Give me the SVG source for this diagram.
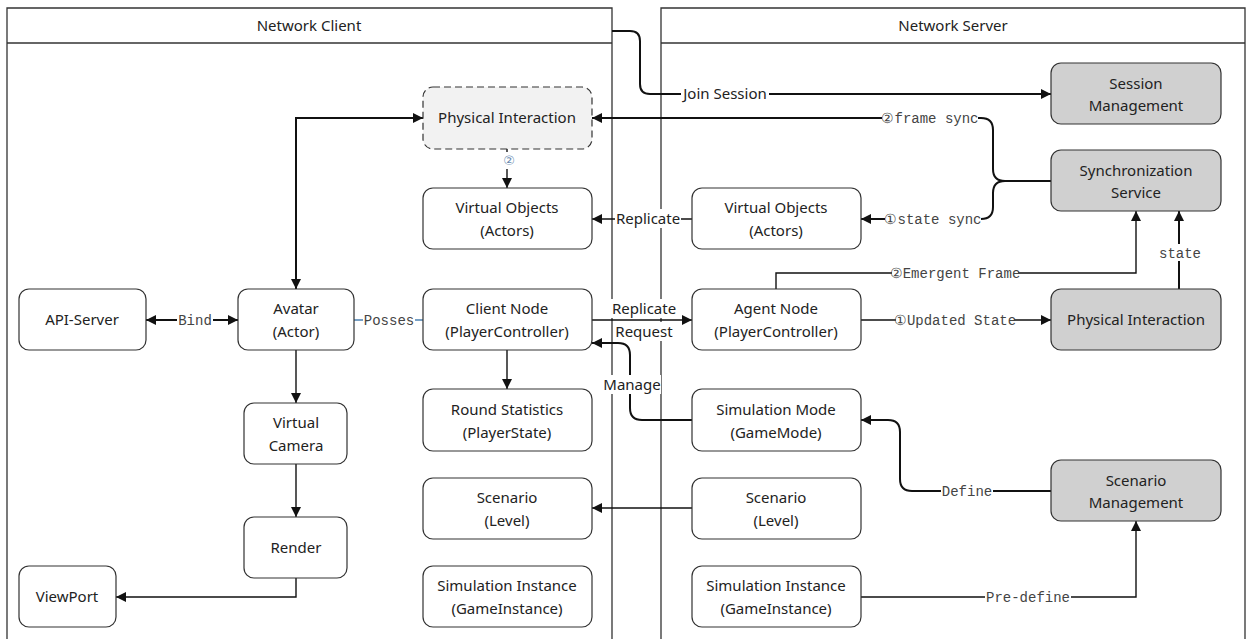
<svg xmlns="http://www.w3.org/2000/svg" width="1252" height="639" viewBox="0 0 1252 639">
<defs>
<marker id="ah" viewBox="0 0 10 10" refX="10" refY="5" markerWidth="10" markerHeight="10" markerUnits="userSpaceOnUse" orient="auto-start-reverse"><path d="M0,0 L10,5 L0,10 z" fill="#111"/></marker>
<style>
.cont{fill:#fff;stroke:#333;stroke-width:1.3}
.hdr{font-family:"Noto Sans","Open Sans",sans-serif;font-size:15px;fill:#222;text-anchor:middle}
.n rect{fill:#fff;stroke:#333;stroke-width:1.2}
.g rect{fill:#d0d0d0;stroke:#333;stroke-width:1.2}
.d rect{fill:#f2f2f2;stroke:#333;stroke-width:1.2;stroke-dasharray:7 4}
.n text,.g text,.d text{font-family:"Noto Sans","Open Sans",sans-serif;font-size:15px;fill:#222;text-anchor:middle}
.c{fill:none;stroke:#111;stroke-width:1.4}
.t{stroke-width:2}
.bg{fill:#fff;stroke:none}
.lb{font-family:"Liberation Mono","DejaVu Sans Mono",monospace;font-size:14px;fill:#444;text-anchor:middle}
.ls{font-family:"Noto Sans","Open Sans",sans-serif;font-size:15px;fill:#222;text-anchor:middle}
</style>
</defs>
<rect width="1252" height="639" fill="#fff"/>
<g id="client-container">
<path class="cont" d="M7,650 V8 H612 V650"/>
<line x1="7" y1="43" x2="612" y2="43" stroke="#333" stroke-width="1.3"/>
<text class="hdr" x="309" y="31">Network Client</text>
</g>
<g id="server-container">
<path class="cont" d="M661,650 V8 H1245 V650"/>
<line x1="661" y1="43" x2="1245" y2="43" stroke="#333" stroke-width="1.3"/>
<text class="hdr" x="953" y="31">Network Server</text>
</g>

<g id="connectors">
<path class="c t" d="M612,31 H630 Q640,31 640,41 V84 Q640,94 650,94 H1051" marker-end="url(#ah)"/>
<path class="c t" d="M1051,181 H1005 Q993,181 993,169 V130 Q993,118 981,118 H592" marker-end="url(#ah)"/>
<path class="c t" d="M1005,181 Q993,181 993,193 V207 Q993,219 981,219 H861" marker-end="url(#ah)"/>
<path class="c" d="M692,219 H592" marker-end="url(#ah)"/>
<path class="c" d="M592,320 H692" marker-end="url(#ah)"/>
<path class="c t" d="M692,420 H642 Q630,420 630,408 V355 Q630,343 618,343 H592" marker-end="url(#ah)"/>
<path class="c" d="M776,289 V273 H1136 V211" marker-end="url(#ah)"/>
<path class="c t" d="M1179,289 V211" marker-end="url(#ah)"/>
<path class="c" d="M861,320 H1051" marker-end="url(#ah)"/>
<path class="c t" d="M1051,491 H912 Q900,491 900,479 V432 Q900,420 888,420 H861" marker-end="url(#ah)"/>
<path class="c" d="M861,597 H1136 V521" marker-end="url(#ah)"/>
<path class="c" d="M692,508 H592" marker-end="url(#ah)"/>
<path class="c" d="M507,149 V188" marker-end="url(#ah)"/>
<path class="c t" d="M423,118 H296 V289" marker-start="url(#ah)" marker-end="url(#ah)"/>
<path class="c t" d="M146,320 H238" marker-start="url(#ah)" marker-end="url(#ah)"/>
<path d="M354,320 H423" fill="none" stroke="#4a7fb0" stroke-width="1.3"/>
<path class="c" d="M507,350 V389" marker-end="url(#ah)"/>
<path class="c" d="M296,350 V403" marker-end="url(#ah)"/>
<path class="c" d="M296,464 V517" marker-end="url(#ah)"/>
<path class="c" d="M296,578 V597 H116" marker-end="url(#ah)"/>

<rect class="bg" x="681" y="84" width="88" height="18"/>
<text class="ls" x="725" y="99">Join Session</text>
<rect class="bg" x="882" y="109" width="96" height="17"/>
<text class="lb" x="930" y="123">②frame sync</text>
<rect class="bg" x="885" y="210" width="96" height="17"/>
<text class="lb" x="933" y="224">①state sync</text>
<rect class="bg" x="615" y="209" width="66" height="19"/>
<text class="ls" x="648" y="224">Replicate</text>
<rect class="bg" x="611" y="299" width="66" height="19"/>
<text class="ls" x="644" y="314">Replicate</text>
<rect class="bg" x="616" y="322" width="56" height="19"/>
<text class="ls" x="644" y="337">Request</text>
<rect class="bg" x="603" y="375" width="58" height="19"/>
<text class="ls" x="632" y="390">Manage</text>
<rect class="bg" x="892" y="264" width="126" height="17"/>
<text class="lb" x="955" y="278">②Emergent Frame</text>
<rect class="bg" x="1159" y="244" width="42" height="17"/>
<text class="lb" x="1180" y="258">state</text>
<rect class="bg" x="896" y="311" width="118" height="17"/>
<text class="lb" x="955" y="325">①Updated State</text>
<rect class="bg" x="941" y="482" width="52" height="17"/>
<text class="lb" x="967" y="496">Define</text>
<rect class="bg" x="985" y="588" width="86" height="17"/>
<text class="lb" x="1028" y="602">Pre-define</text>
<rect class="bg" x="177" y="311" width="36" height="17"/>
<text class="lb" x="195" y="325">Bind</text>
<rect class="bg" x="363" y="311" width="52" height="17"/>
<text class="lb" x="389" y="325">Posses</text>
<rect class="bg" x="500" y="152" width="18" height="17"/>
<text x="509" y="165" font-family="DejaVu Sans,sans-serif" font-size="13" fill="#6a8bb0" text-anchor="middle">②</text>
</g>

<g id="client-physical-interaction" class="d"><rect x="423" y="87" width="169" height="62" rx="10"/><text x="507" y="123">Physical Interaction</text></g>
<g id="client-virtual-objects" class="n"><rect x="423" y="188" width="169" height="61" rx="10"/><text x="507" y="213">Virtual Objects</text><text x="507" y="236">(Actors)</text></g>
<g id="client-node" class="n"><rect x="423" y="289" width="169" height="61" rx="10"/><text x="507" y="314">Client Node</text><text x="507" y="337">(PlayerController)</text></g>
<g id="round-statistics" class="n"><rect x="423" y="389" width="169" height="62" rx="10"/><text x="507" y="415">Round Statistics</text><text x="507" y="438">(PlayerState)</text></g>
<g id="client-scenario" class="n"><rect x="423" y="478" width="169" height="61" rx="10"/><text x="507" y="503">Scenario</text><text x="507" y="526">(Level)</text></g>
<g id="client-sim-instance" class="n"><rect x="423" y="566" width="169" height="61" rx="10"/><text x="507" y="591">Simulation Instance</text><text x="507" y="614">(GameInstance)</text></g>
<g id="api-server" class="n"><rect x="19" y="289" width="127" height="61" rx="10"/><text x="82" y="325">API-Server</text></g>
<g id="avatar" class="n"><rect x="238" y="289" width="116" height="61" rx="10"/><text x="296" y="314">Avatar</text><text x="296" y="337">(Actor)</text></g>
<g id="virtual-camera" class="n"><rect x="244" y="403" width="103" height="61" rx="10"/><text x="296" y="428">Virtual</text><text x="296" y="451">Camera</text></g>
<g id="render" class="n"><rect x="244" y="517" width="103" height="61" rx="10"/><text x="296" y="553">Render</text></g>
<g id="viewport" class="n"><rect x="19" y="566" width="97" height="61" rx="10"/><text x="67" y="602">ViewPort</text></g>

<g id="server-virtual-objects" class="n"><rect x="692" y="188" width="169" height="61" rx="10"/><text x="776" y="213">Virtual Objects</text><text x="776" y="236">(Actors)</text></g>
<g id="agent-node" class="n"><rect x="692" y="289" width="169" height="61" rx="10"/><text x="776" y="314">Agent Node</text><text x="776" y="337">(PlayerController)</text></g>
<g id="simulation-mode" class="n"><rect x="692" y="389" width="169" height="62" rx="10"/><text x="776" y="415">Simulation Mode</text><text x="776" y="438">(GameMode)</text></g>
<g id="server-scenario" class="n"><rect x="692" y="478" width="169" height="61" rx="10"/><text x="776" y="503">Scenario</text><text x="776" y="526">(Level)</text></g>
<g id="server-sim-instance" class="n"><rect x="692" y="566" width="169" height="61" rx="10"/><text x="776" y="591">Simulation Instance</text><text x="776" y="614">(GameInstance)</text></g>
<g id="session-management" class="g"><rect x="1051" y="63" width="170" height="61" rx="10"/><text x="1136" y="89">Session</text><text x="1136" y="111">Management</text></g>
<g id="sync-service" class="g"><rect x="1051" y="150" width="170" height="61" rx="10"/><text x="1136" y="176">Synchronization</text><text x="1136" y="198">Service</text></g>
<g id="server-physical-interaction" class="g"><rect x="1051" y="289" width="170" height="61" rx="10"/><text x="1136" y="325">Physical Interaction</text></g>
<g id="scenario-management" class="g"><rect x="1051" y="460" width="170" height="61" rx="10"/><text x="1136" y="486">Scenario</text><text x="1136" y="508">Management</text></g>
</svg>
